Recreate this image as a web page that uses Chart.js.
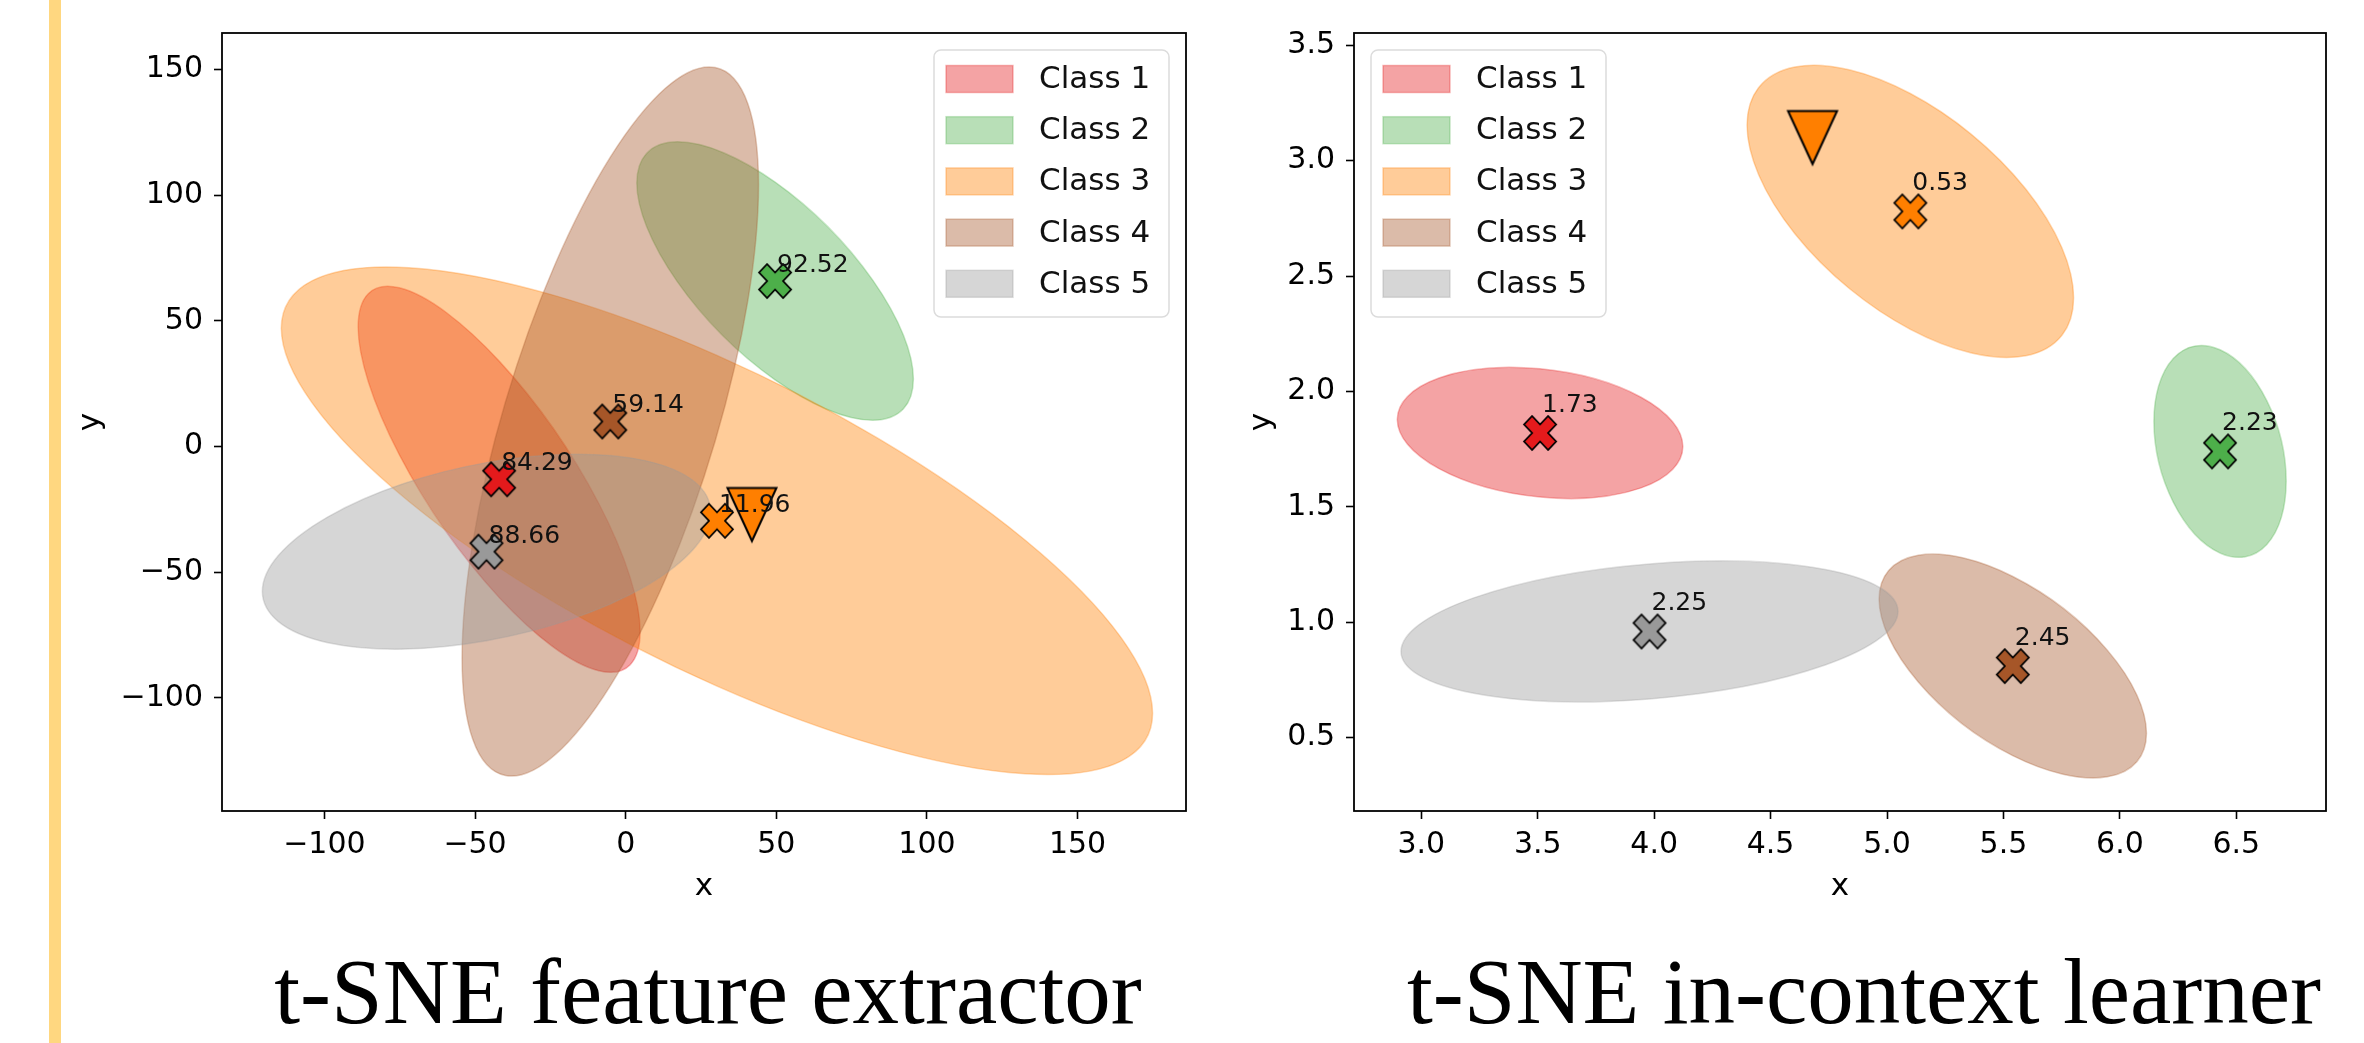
<!DOCTYPE html>
<html>
<head>
<meta charset="utf-8">
<script src="https://cdn.jsdelivr.net/npm/chart.js@4.4.0/dist/chart.umd.min.js"></script>
<style>
  html, body { margin: 0; padding: 0; background: #fff; }
  body { width: 2364px; height: 1043px; position: relative; overflow: hidden; }
  .bar { position: absolute; left: 49px; top: 0; width: 12px; height: 1043px; background: #ffd780; }
  #featChart { position: absolute; left: 62px; top: 0; }
  #iclChart { position: absolute; left: 1230px; top: 0; }
  .cap {
    position: absolute; top: 945px; white-space: nowrap; color: #000;
    font-family: "Liberation Serif", "Times New Roman", serif;
    font-size: 93px; line-height: 93px; transform: translateX(-50%);
  }
</style>
</head>
<body>
<div class="bar"></div>
<canvas id="featChart" width="1150" height="909"></canvas>
<canvas id="iclChart" width="1134" height="909"></canvas>
<div class="cap" style="left:708px">t-SNE feature extractor</div>
<div class="cap" style="left:1864px">t-SNE in-context learner</div>
<script>
/* ==========================================================================
   Data
   ========================================================================== */

const classNames = ['Class 1', 'Class 2', 'Class 3', 'Class 4', 'Class 5'];
const classColors = ['#e41a1c', '#4daf4a', '#ff7f00', '#a65628', '#999999'];

// left panel: t-SNE of the feature extractor
const featCenterX = [-42.0, 49.6, 30.3, -5.1, -46.2];
const featCenterY = [-13.0, 65.9, -29.5, 10.0, -41.8];
const featScores = ['84.29', '92.52', '11.96', '59.14', '88.66'];
// ellipse extent: half width, half height, x shift of the topmost point
const featHalfW = [46.8, 45.9, 144.6, 49.2, 74.4];
const featHalfH = [76.8, 55.4, 101.0, 141.1, 38.8];
const featTopShift = [-37.0, -32.3, -109.7, 32.8, 30.3];
const featQuery = [41.9, -27.0];
const featXTicks = [-100, -50, 0, 50, 100, 150];
const featYTicks = [-100, -50, 0, 50, 100, 150];
const featXRange = [-134, 186];
const featYRange = [-145, 164.6];

// right panel: t-SNE of the in-context learner
const iclCenterX = [3.51, 6.43, 5.10, 5.54, 3.98];
const iclCenterY = [1.82, 1.74, 2.78, 0.81, 0.96];
const iclScores = ['1.73', '2.23', '0.53', '2.45', '2.25'];
const iclHalfW = [0.613, 0.284, 0.701, 0.574, 1.067];
const iclHalfH = [0.284, 0.459, 0.633, 0.485, 0.305];
const iclTopShift = [-0.127, -0.080, -0.414, -0.344, 0.303];
const iclQuery = [4.68, 3.10];
const iclXTicks = [3.0, 3.5, 4.0, 4.5, 5.0, 5.5, 6.0, 6.5];
const iclYTicks = [0.5, 1.0, 1.5, 2.0, 2.5, 3.0, 3.5];
const iclXRange = [2.711, 6.885];
const iclYRange = [0.182, 3.553];

/* ==========================================================================
   Helpers
   ========================================================================== */

const FONT = 'DejaVu Sans';

function rgba(hex, a) {
    const n = parseInt(hex.slice(1), 16);
    return `rgba(${(n >> 16) & 255}, ${(n >> 8) & 255}, ${n & 255}, ${a})`;
}

// filled "X" marker with black edge (matplotlib style)
function xMarker(color) {
    const c = document.createElement('canvas');
    c.width = 38;
    c.height = 40;
    const g = c.getContext('2d');
    const pts = [[-1, -2], [0, -1], [1, -2], [2, -1], [1, 0], [2, 1], [1, 2], [0, 1], [-1, 2], [-2, 1], [-1, 0], [-2, -1]];
    g.translate(19, 20);
    g.beginPath();
    pts.forEach(([px, py], i) => {
        if (i) g.lineTo(px * 8, py * 8.5);
        else g.moveTo(px * 8, py * 8.5);
    });
    g.closePath();
    g.fillStyle = color;
    g.fill();
    g.lineWidth = 1.8;
    g.strokeStyle = '#000';
    g.stroke();
    return c;
}

// downward triangle marker
function triMarker(color) {
    const c = document.createElement('canvas');
    c.width = 56;
    c.height = 62;
    const g = c.getContext('2d');
    g.translate(28, 31);
    g.beginPath();
    g.moveTo(-24.5, -26.5);
    g.lineTo(24.5, -26.5);
    g.lineTo(0, 26.5);
    g.closePath();
    g.fillStyle = color;
    g.fill();
    g.lineWidth = 2;
    g.strokeStyle = '#000';
    g.stroke();
    return c;
}

function signed(v) {
    return (v < 0 ? '\u2212' : '') + Math.abs(v);
}

/* ==========================================================================
   Panel
   ========================================================================== */

function makePanel(canvasId, d) {
    const canvas = document.getElementById(canvasId);

    const ellipses = {
        id: 'ellipses',
        beforeDatasetsDraw(chart) {
            const {ctx, chartArea: a, scales: {x, y}} = chart;
            ctx.save();
            ctx.beginPath();
            ctx.rect(a.left, a.top, a.width, a.height);
            ctx.clip();
            d.cx.forEach((_, i) => {
                const px = x.getPixelForValue(d.cx[i]);
                const py = y.getPixelForValue(d.cy[i]);
                const sx = x.getPixelForValue(d.cx[i] + 1) - px;
                const sy = y.getPixelForValue(d.cy[i] + 1) - py;
                const uy = d.topShift[i] * d.halfH[i] / d.halfW[i];
                const vy = Math.sqrt(Math.max(d.halfH[i] * d.halfH[i] - uy * uy, 0));
                ctx.save();
                ctx.beginPath();
                ctx.transform(d.halfW[i] * sx, uy * sy, 0, vy * sy, px, py);
                ctx.arc(0, 0, 1, 0, Math.PI * 2);
                ctx.restore();
                ctx.fillStyle = rgba(classColors[i], 0.4);
                ctx.fill();
                ctx.lineWidth = 1.5;
                ctx.strokeStyle = rgba(classColors[i], 0.3);
                ctx.stroke();
            });
            ctx.restore();
        }
    };

    const scoreLabels = {
        id: 'scoreLabels',
        afterDatasetsDraw(chart) {
            const {ctx, scales: {x, y}} = chart;
            ctx.save();
            ctx.font = `25px "${FONT}"`;
            ctx.fillStyle = '#111';
            ctx.textAlign = 'left';
            ctx.textBaseline = 'alphabetic';
            d.cx.forEach((_, i) => {
                ctx.fillText(d.scores[i],
                    x.getPixelForValue(d.cx[i]) + 2,
                    y.getPixelForValue(d.cy[i]) - d.labelLift);
            });
            ctx.restore();
        }
    };

    const frameAndLegend = {
        id: 'frameAndLegend',
        afterDraw(chart) {
            const {ctx, chartArea: a} = chart;
            ctx.save();
            ctx.lineWidth = 1.8;
            ctx.strokeStyle = '#000';
            ctx.strokeRect(a.left, a.top, a.width, a.height);

            // legend box
            const w = 235, h = 267;
            const left = d.legendRight ? a.right - 17 - w : a.left + 17;
            const top = a.top + 17;
            ctx.beginPath();
            ctx.roundRect(left, top, w, h, 7);
            ctx.fillStyle = 'rgba(255,255,255,0.8)';
            ctx.fill();
            ctx.lineWidth = 1.5;
            ctx.strokeStyle = '#dcdcdc';
            ctx.stroke();

            ctx.font = `31px "${FONT}"`;
            ctx.textBaseline = 'middle';
            ctx.textAlign = 'left';
            classNames.forEach((name, i) => {
                const cy = top + 29 + i * 51.2;
                ctx.fillStyle = rgba(classColors[i], 0.4);
                ctx.strokeStyle = rgba(classColors[i], 0.3);
                ctx.lineWidth = 1.5;
                ctx.fillRect(left + 12, cy - 13.5, 67, 27);
                ctx.strokeRect(left + 12, cy - 13.5, 67, 27);
                ctx.fillStyle = '#111';
                ctx.fillText(name, left + 105, cy + 1);
            });
            ctx.restore();
        }
    };

    const tickFont = {family: FONT, size: 30};
    const grid = {
        display: true,
        drawOnChartArea: false,
        drawTicks: true,
        tickLength: 8,
        tickWidth: 1.6,
        tickColor: '#000',
        color: '#000'
    };

    return new Chart(canvas, {
        type: 'scatter',
        data: {
            datasets: [{
                label: 'centers',
                data: d.cx.map((v, i) => ({x: v, y: d.cy[i]})),
                pointStyle: classColors.map(xMarker),
                pointRadius: 16
            }, {
                label: 'query',
                data: [{x: d.query[0], y: d.query[1]}],
                pointStyle: triMarker('#ff7f00'),
                pointRadius: 25
            }]
        },
        options: {
            responsive: false,
            animation: false,
            events: [],
            layout: {padding: {top: 33, right: d.padRight, left: 0, bottom: 0}},
            plugins: {
                legend: {display: false},
                tooltip: {enabled: false}
            },
            scales: {
                x: {
                    type: 'linear',
                    bounds: 'data',
                    min: d.xRange[0],
                    max: d.xRange[1],
                    afterBuildTicks: s => { s.ticks = d.xTicks.map(v => ({value: v})); },
                    afterFit: s => { s.height = 98; },
                    ticks: {
                        font: tickFont,
                        color: '#000',
                        padding: 8,
                        maxRotation: 0,
                        autoSkip: false,
                        callback: d.xFormat
                    },
                    grid: grid,
                    border: {display: false},
                    title: {
                        display: true,
                        text: 'x',
                        color: '#000',
                        font: {family: FONT, size: 31},
                        padding: {top: 0, bottom: 3}
                    }
                },
                y: {
                    type: 'linear',
                    bounds: 'data',
                    min: d.yRange[0],
                    max: d.yRange[1],
                    afterBuildTicks: s => { s.ticks = d.yTicks.map(v => ({value: v})); },
                    afterFit: s => { s.width = d.yAxisWidth; },
                    ticks: {
                        font: tickFont,
                        color: '#000',
                        padding: 11,
                        autoSkip: false,
                        callback: d.yFormat
                    },
                    grid: grid,
                    border: {display: false},
                    title: {
                        display: true,
                        text: 'y',
                        color: '#000',
                        font: {family: FONT, size: 31},
                        padding: {top: d.yTitlePad, bottom: 0}
                    }
                }
            }
        },
        plugins: [ellipses, scoreLabels, frameAndLegend]
    });
}

makePanel('featChart', {
    cx: featCenterX, cy: featCenterY, scores: featScores,
    halfW: featHalfW, halfH: featHalfH, topShift: featTopShift,
    query: featQuery,
    xTicks: featXTicks, yTicks: featYTicks,
    xRange: featXRange, yRange: featYRange,
    xFormat: v => signed(v), yFormat: v => signed(v),
    padRight: 17, yAxisWidth: 160, yTitlePad: 10,
    labelLift: 9, legendRight: true
});

makePanel('iclChart', {
    cx: iclCenterX, cy: iclCenterY, scores: iclScores,
    halfW: iclHalfW, halfH: iclHalfH, topShift: iclTopShift,
    query: iclQuery,
    xTicks: iclXTicks, yTicks: iclYTicks,
    xRange: iclXRange, yRange: iclYRange,
    xFormat: v => v.toFixed(1), yFormat: v => v.toFixed(1),
    padRight: 38, yAxisWidth: 124, yTitlePad: 13,
    labelLift: 21, legendRight: false
});
</script>
</body>
</html>
